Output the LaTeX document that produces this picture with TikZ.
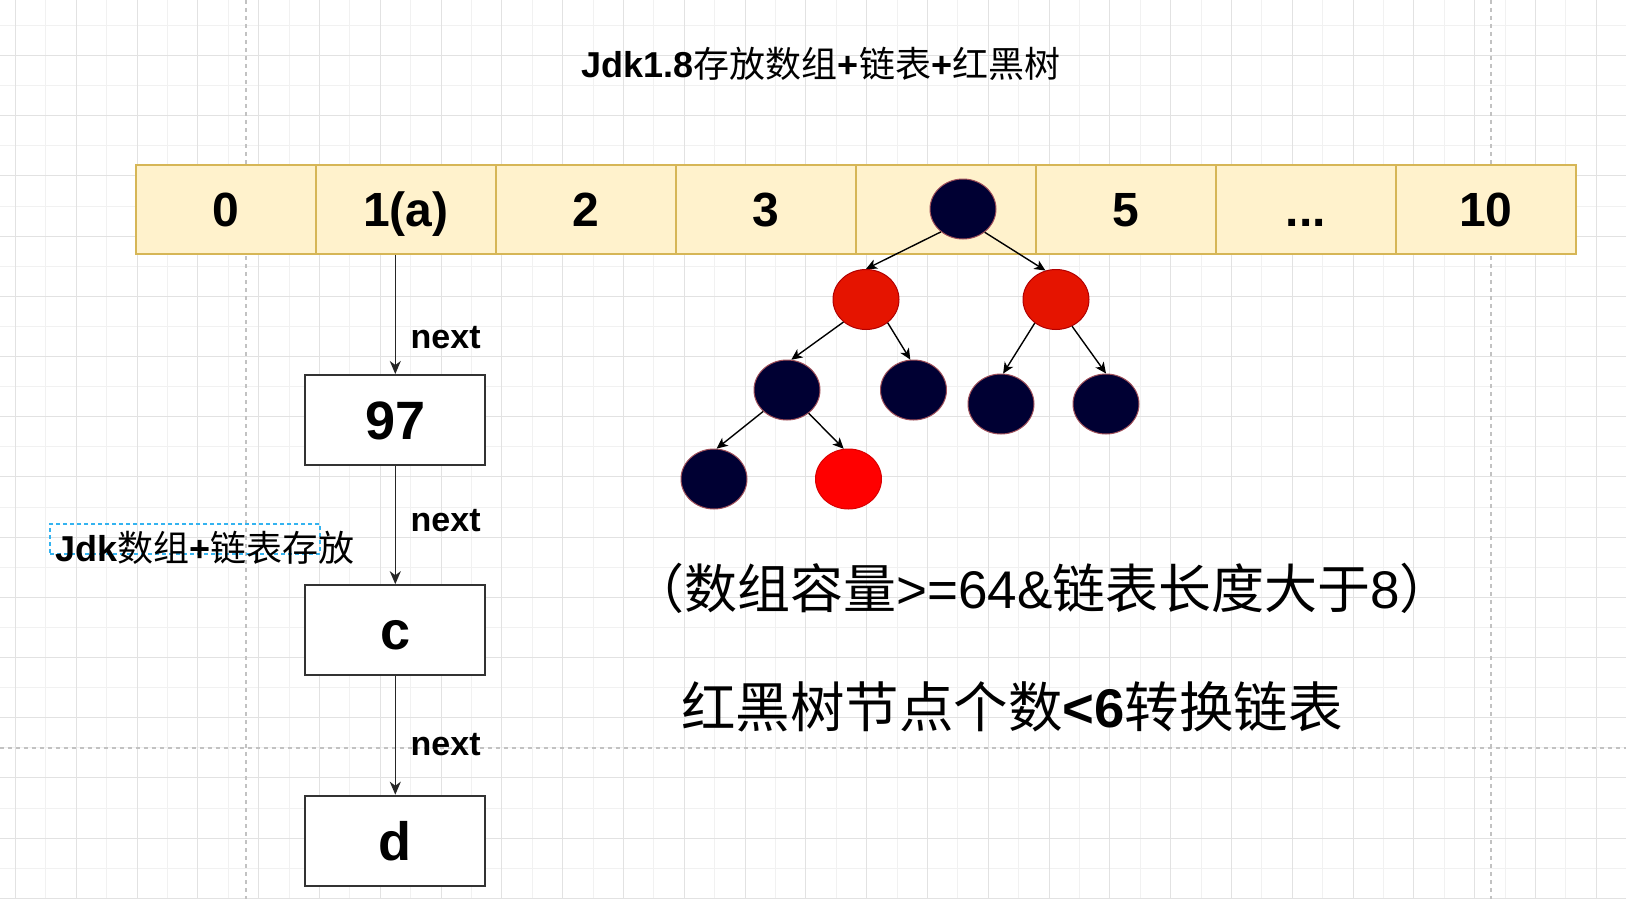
\documentclass[tikz,border=0pt]{standalone}
\usepackage{fontspec}
\setmainfont{Liberation Sans}
\newfontfamily\cjk{Noto Sans CJK SC}
\usetikzlibrary{shapes.geometric,arrows.meta}
\definecolor{cellfill}{HTML}{FFF2CC}
\definecolor{celldraw}{HTML}{D6B656}
\definecolor{navy}{HTML}{000033}
\definecolor{rbred}{HTML}{E51400}
\definecolor{rbreddraw}{HTML}{B20000}
\definecolor{nodeedge}{HTML}{A0505A}
\definecolor{boxdraw}{HTML}{333333}
\definecolor{gridmajor}{HTML}{E2E2E2}
\definecolor{gridminor}{HTML}{F1F1F1}
\definecolor{pagebreak}{HTML}{C2C2C2}
\definecolor{selblue}{HTML}{33B3F0}
\begin{document}
\begin{tikzpicture}[x=1pt,y=-1pt,
  cell/.style={draw=celldraw,fill=cellfill,line width=2pt,minimum width=180pt,minimum height=89.5pt,inner sep=0pt,font=\fontsize{48}{50}\selectfont\bfseries,text height=34.4pt,text depth=0pt},
  listbox/.style={draw=boxdraw,fill=white,line width=2pt,minimum width=180pt,minimum height=90pt,inner sep=0pt,font=\fontsize{54}{56}\selectfont\bfseries,text height=38.7pt,text depth=0pt},
  rbnode/.style={ellipse,minimum width=66pt,minimum height=60pt,inner sep=0pt,line width=1pt},
  blacknode/.style={rbnode,fill=navy,draw=nodeedge},
  rednode/.style={rbnode,fill=rbred,draw=rbreddraw},
  brightred/.style={rbnode,fill=red,draw=red!85!black},
  treearrow/.style={-{Stealth[length=11pt,width=10pt,inset=3pt]},line width=1.4pt},
  listarrow/.style={-{Stealth[length=13pt,width=11pt,inset=4pt]},line width=1.5pt,draw=black!85},
  nextlabel/.style={anchor=base west,inner sep=0pt,font=\fontsize{34}{36}\selectfont\bfseries},
  plaintext/.style={anchor=base west,inner sep=0pt},
]
\useasboundingbox (0,0) rectangle (1626,899);
\fill[white] (0,0) rectangle (1626,899);
% grid
\foreach \i in {0,...,54} {\draw[gridminor,line width=1pt] ({-14.9+30.4*\i},0) -- ({-14.9+30.4*\i},899);}
\foreach \i in {0,...,31} {\draw[gridminor,line width=1pt] (0,{-4.7+30.1*\i}) -- (1626,{-4.7+30.1*\i});}
\foreach \i in {0,...,26} {\draw[gridmajor,line width=1pt] ({15.5+60.8*\i},0) -- ({15.5+60.8*\i},899);}
\foreach \i in {0,...,15} {\draw[gridmajor,line width=1pt] (0,{-4.7+60.2*\i}) -- (1626,{-4.7+60.2*\i});}
% page breaks
\draw[pagebreak,line width=1.3pt,dash pattern=on 4pt off 4pt] (246,0) -- (246,899);
\draw[pagebreak,line width=1.3pt,dash pattern=on 4pt off 4pt] (1491,0) -- (1491,899);
\draw[pagebreak,line width=1.3pt,dash pattern=on 4pt off 4pt] (0,748) -- (1626,748);

% title
\node[plaintext,font=\fontsize{36}{40}\selectfont] (title) at (581.7,77.3)
  {\textbf{Jdk1.8}{\cjk 存放数组}\textbf{+}{\cjk 链表}\textbf{+}{\cjk 红黑树}};

% array
\node[cell] (c0) at (225.7,209.25) {0};
\node[cell] (c1) at (405.7,209.25) {1(a)};
\node[cell] (c2) at (585.7,209.25) {2};
\node[cell] (c3) at (765.7,209.25) {3};
\node[cell] (c4) at (945.7,209.25) {};
\node[cell] (c5) at (1125.7,209.25) {5};
\node[cell] (c6) at (1305.7,209.25) {...};
\node[cell] (c7) at (1485.7,209.25) {10};

% linked list
\node[listbox] (b97) at (395.3,420) {97};
\node[listbox] (bc) at (395.3,630.2) {c};
\node[listbox] (bd) at (395.3,840.7) {d};
\draw[listarrow] (b97.north |- c1.south) -- (b97.north);
\draw[listarrow] (b97.south) -- (bc.north);
\draw[listarrow] (bc.south) -- (bd.north);
\node[nextlabel] (n1) at (410.5,348.3) {next};
\node[nextlabel] (n2) at (410.5,531.7) {next};
\node[nextlabel] (n3) at (410.5,755) {next};

% selection label
\node[draw=selblue,line width=1.3pt,dash pattern=on 4pt off 3pt,minimum width=270pt,minimum height=30pt,inner sep=0pt] (sel) at (185,539) {};
\node[plaintext,font=\fontsize{36}{38}\selectfont] (jdk) at (55,561.7)
  {\textbf{Jdk}{\cjk 数组}\textbf{+}{\cjk 链表存放}};

% red-black tree
\node[blacknode] (root) at (963,209) {};
\node[rednode] (rl) at (866,299.5) {};
\node[rednode] (rr) at (1056,299.5) {};
\node[blacknode] (ba) at (787,390) {};
\node[blacknode] (bb) at (913.5,390) {};
\node[blacknode] (bcn) at (1001,404) {};
\node[blacknode] (bdn) at (1106,404) {};
\node[blacknode] (be) at (714,479) {};
\node[brightred] (rf) at (848.5,479) {};
\draw[treearrow] (root.-134) -- (rl.90);
\draw[treearrow] (root.-47) -- (rr.110);
\draw[treearrow] (rl.-135) -- (ba.82);
\draw[treearrow] (rl.-47) -- (bb.96);
\draw[treearrow] (rr.-132) -- (bcn.86);
\draw[treearrow] (rr.-59) -- (bdn.90);
\draw[treearrow] (ba.-138) -- (be.85);
\draw[treearrow] (ba.-47) -- (rf.99);

% notes
\node[plaintext,font=\fontsize{53}{57}\selectfont] (cond) at (631,608)
  {{\cjk （数组容量}>=64\&{\cjk 链表长度大于}8{\cjk ）}};
\node[plaintext,font=\fontsize{54.5}{58}\selectfont] (rule) at (681,727)
  {{\cjk 红黑树节点个数}\textbf{<6}{\cjk 转换链表}};
\end{tikzpicture}
\end{document}
